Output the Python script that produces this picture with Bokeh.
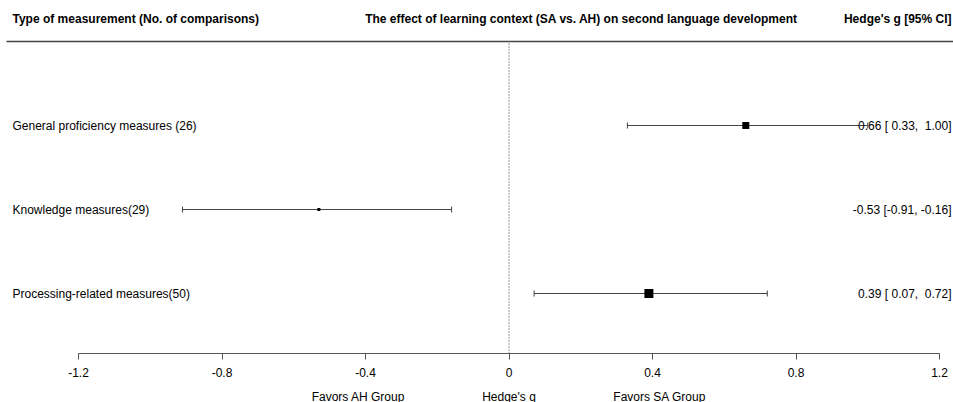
from bokeh.plotting import figure
from bokeh.models import Range1d, LinearAxis, FixedTicker, ColumnDataSource
from bokeh.core.properties import value
from bokeh.embed import file_html
from bokeh.resources import INLINE

# ---- data ----
labels = ["General proficiency measures (26)", "Knowledge measures(29)", "Processing-related measures(50)"]
estimates = [0.66, -0.53, 0.39]
ci_low = [0.33, -0.91, 0.07]
ci_high = [1.00, -0.16, 0.72]
weights_px = [7, 3, 9]
ticks = [-1.2, -0.8, -0.4, 0, 0.4, 0.8, 1.2]
tick_labels = ["-1.2", "-0.8", "-0.4", "0", "0.4", "0.8", "1.2"]
header_left = "Type of measurement (No. of comparisons)"
header_mid = "The effect of learning context (SA vs. AH) on second language development"
header_right = "Hedge's g [95% CI]"
bottom_labels = ["Favors AH Group", "Hedge's g", "Favors SA Group"]
bottom_pos = [-0.42, 0.0, 0.42]

W, H = 953, 402
# pixel mapping helpers (x: -1.2 at px 78, 1.2 at px 939)
XL_PX, XR_PX = 78, 939
sx = (XR_PX - XL_PX) / 2.4
x0 = -1.2 - XL_PX / sx
x1 = 1.2 + (W - XR_PX) / sx
def px_x(px):
    return x0 + px / sx
# y: row k (3 top .. 1 bottom), row 1 at px 293, spacing 84
def px_y(py):
    return 1 + (293 - py) / 84.0

y0 = px_y(H)
y1 = px_y(0)

n = len(labels)
rows = [n - i for i in range(n)]

def fmt(v):
    s = "%.2f" % v
    return s if v < 0 else "\u00a0" + s if False else s

def ci_str(e, l, h):
    ls = "%.2f" % l
    hs = "%.2f" % h
    ls = ("\u00a0" + ls) if l >= 0 else ls
    sep = ", \u00a0" if h >= 0 else ", "
    return "%.2f [%s%s%s]" % (e, ls, sep, hs)

ci_text = [ci_str(e, l, h) for e, l, h in zip(estimates, ci_low, ci_high)]

src = ColumnDataSource(dict(y=rows, est=estimates, lo=ci_low, hi=ci_high, w=weights_px,
                            lab=labels, ci=ci_text))

p = figure(width=W, height=H, x_range=Range1d(x0, x1), y_range=Range1d(y0, y1),
           output_backend="svg", toolbar_location=None,
           x_axis_location=None, y_axis_location=None, min_border=0)
p.outline_line_color = None
p.grid.visible = False
p.background_fill_color = "white"

FONT = value("Liberation Sans")
cap = 3 / 84.0

# reference line at 0 (dotted)
p.segment(x0=[0], y0=[px_y(353)], x1=[0], y1=[px_y(42)], line_color="#333333",
          line_width=1, line_dash="1 2")

# header separator line
p.segment(x0=[px_x(6)], y0=[px_y(41)], x1=[px_x(953)], y1=[px_y(41)], line_color="#444444",
          line_width=1.5)

# CI lines and caps
p.segment(x0="lo", y0="y", x1="hi", y1="y", source=src, line_color="#444444", line_width=1)
ys_lo = [r - cap for r in rows]
ys_hi = [r + cap for r in rows]
p.segment(x0=ci_low, y0=ys_lo, x1=ci_low, y1=ys_hi, line_color="#444444", line_width=1)
p.segment(x0=ci_high, y0=ys_lo, x1=ci_high, y1=ys_hi, line_color="#444444", line_width=1)

# point estimates
p.scatter(x="est", y="y", size="w", marker="square", source=src, fill_color="black",
          line_color="black", line_width=0)

# row labels
p.text(x=[px_x(12)] * n, y=rows, text=labels, text_font=FONT, text_font_size="12px",
       text_align="left", text_baseline="middle", text_color="black")
p.text(x=[px_x(951)] * n, y=rows, text=ci_text, text_font=FONT, text_font_size="12px",
       text_align="right", text_baseline="middle", text_color="black")

# headers
hy = px_y(18)
p.text(x=[px_x(12)], y=[hy], text=[header_left], text_font=FONT, text_font_size="12px",
       text_font_style="bold", text_align="left", text_baseline="middle")
p.text(x=[px_x(581)], y=[hy], text=[header_mid], text_font=FONT, text_font_size="12px",
       text_font_style="bold", text_align="center", text_baseline="middle")
p.text(x=[px_x(951)], y=[hy], text=[header_right], text_font=FONT, text_font_size="12px",
       text_font_style="bold", text_align="right", text_baseline="middle")

# x axis placed inside the frame
ax = LinearAxis(fixed_location=px_y(353), ticker=FixedTicker(ticks=ticks), bounds=(-1.2, 1.2))
ax.major_label_overrides = {t: l for t, l in zip(ticks, tick_labels)}
ax.axis_line_color = "#555555"
ax.major_tick_line_color = "#555555"
ax.major_tick_out = 6
ax.major_tick_in = 0
ax.minor_tick_out = 0
ax.minor_tick_in = 0
ax.major_label_standoff = 8
ax.major_label_text_font = "Liberation Sans"
ax.major_label_text_font_size = "12px"
ax.major_label_text_color = "black"
p.add_layout(ax, "below")

# bottom labels
p.text(x=bottom_pos, y=[px_y(396)] * 3, text=bottom_labels, text_font=FONT,
       text_font_size="12px", text_align="center", text_baseline="middle")

open("out.html", "w").write(file_html(p, INLINE))
